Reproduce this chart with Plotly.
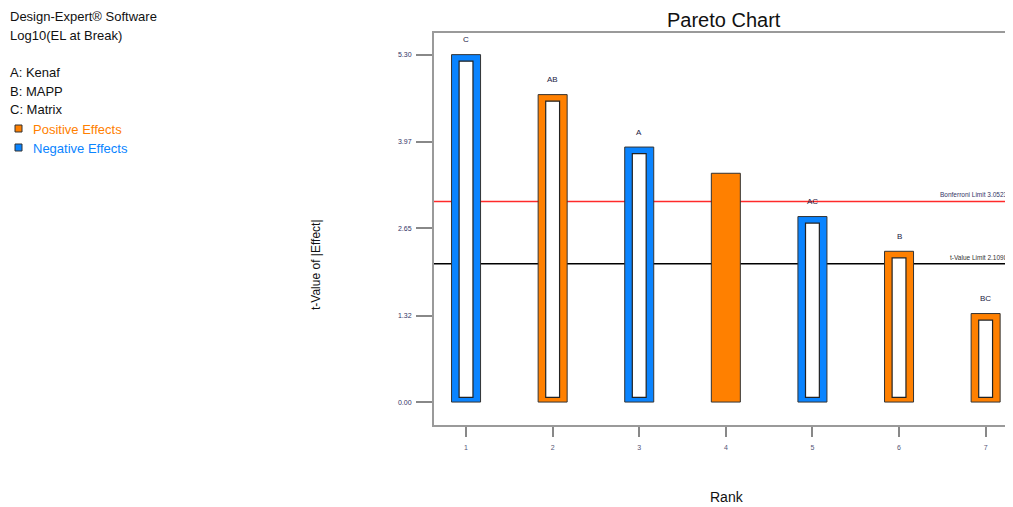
import plotly.graph_objects as go

# ---- data ----
ranks = [1, 2, 3, 4, 5, 6, 7]
effects = [5.30, 4.69, 3.89, 3.49, 2.83, 2.30, 1.35]
terms = ["C", "AB", "A", "", "AC", "B", "BC"]
signs = ["neg", "pos", "neg", "pos", "neg", "pos", "pos"]
hollow = [True, True, True, False, True, True, True]
y_ticks = [0.00, 1.32, 2.65, 3.97, 5.30]
y_tick_text = ["0.00", "1.32", "2.65", "3.97", "5.30"]
bonferroni_limit = 3.06
t_value_limit = 2.11
info_lines = ["Design-Expert® Software", "Log10(EL at Break)", "", "A: Kenaf", "B: MAPP", "C: Matrix"]

ORANGE = "#FF8000"
BLUE = "#0A84FF"
colors = [ORANGE if s == "pos" else BLUE for s in signs]

OFF = 8  # page body margin
W, H = 1013 - OFF, 507 - OFF
L, R, T, B = 434 - OFF, 0, 33 - OFF, 82
pw, ph = W - L - R, H - T - B

def px(x):
    return (x - OFF - L) / pw

def py(y):
    return (H - B - (y - OFF)) / ph

fig = go.Figure()

fig.add_trace(go.Bar(
    x=ranks, y=effects, width=0.335,
    marker=dict(color=colors, line=dict(color="#333333", width=1)),
    hoverinfo="skip", showlegend=False,
))

# inner white part of hollow bars
inset_bottom, inset_top = 0.07, 0.10
hx = [r for r, h in zip(ranks, hollow) if h]
hy = [e - inset_bottom - inset_top for e, h in zip(effects, hollow) if h]
fig.add_trace(go.Bar(
    x=hx, y=hy, base=[inset_bottom] * len(hx), width=0.16,
    marker=dict(color="white", line=dict(color="#222222", width=1.2)),
    hoverinfo="skip", showlegend=False,
))

# limit lines (below bars)
fig.add_shape(type="line", xref="paper", yref="y", x0=0, x1=1,
              y0=bonferroni_limit, y1=bonferroni_limit,
              line=dict(color="#FF2A2A", width=1.5), layer="below")
fig.add_shape(type="line", xref="paper", yref="y", x0=0, x1=1,
              y0=t_value_limit, y1=t_value_limit,
              line=dict(color="black", width=1.5), layer="below")

fig.add_annotation(xref="paper", yref="y", x=1, y=bonferroni_limit,
                   text="Bonferroni Limit 3.05231", showarrow=False,
                   xanchor="right", yanchor="bottom", yshift=1,
                   font=dict(size=6.5, color="#333366"))
fig.add_annotation(xref="paper", yref="y", x=1, y=t_value_limit,
                   text="t-Value Limit 2.10982", showarrow=False,
                   xanchor="right", yanchor="bottom", yshift=1,
                   font=dict(size=6.5, color="#333333"))

# term labels above bars
for r, e, t in zip(ranks, effects, terms):
    if t:
        fig.add_annotation(x=r, y=e, text=t, showarrow=False, yshift=15,
                           xanchor="center", yanchor="middle",
                           font=dict(size=8, color="#222244"))

# title & axis titles
fig.add_annotation(xref="paper", yref="paper", x=px(724), y=py(20),
                   text="Pareto Chart", showarrow=False,
                   xanchor="center", yanchor="middle",
                   font=dict(size=20, color="#111111"))
fig.add_annotation(xref="paper", yref="paper", x=px(727), y=py(497),
                   text="Rank", showarrow=False,
                   xanchor="center", yanchor="middle",
                   font=dict(size=14, color="#111111"))
fig.add_annotation(xref="paper", yref="paper", x=px(316), y=py(265),
                   text="t-Value of |Effect|", showarrow=False, textangle=-90,
                   xanchor="center", yanchor="middle",
                   font=dict(size=12, color="#111111"))

# left info text
y0 = 17
for i, line in enumerate(info_lines):
    if line:
        fig.add_annotation(xref="paper", yref="paper", x=px(8), y=py(y0 + i * 18.6),
                           text=line, showarrow=False,
                           xanchor="left", yanchor="middle",
                           font=dict(size=13, color="#111111"))
for label, col, yy in [("Positive Effects", ORANGE, 129), ("Negative Effects", BLUE, 148)]:
    fig.add_shape(type="rect", xref="paper", yref="paper",
                  x0=px(15), x1=px(22), y0=py(yy - 4), y1=py(yy + 3),
                  fillcolor=col, line=dict(color="#333333", width=1))
    fig.add_annotation(xref="paper", yref="paper", x=px(31), y=py(yy),
                       text=label, showarrow=False,
                       xanchor="left", yanchor="middle",
                       font=dict(size=13, color=col))

fig.update_layout(
    width=W, height=H,
    margin=dict(l=L, r=R, t=T, b=B),
    paper_bgcolor="white", plot_bgcolor="white",
    barmode="overlay",
    font=dict(family="Liberation Sans, Arial, sans-serif"),
    showlegend=False,
)
fig.update_xaxes(
    range=[0.63, 7.316], tickvals=ranks, ticktext=[str(r) for r in ranks],
    showgrid=False, zeroline=False,
    showline=True, linecolor="#9a9a9a", linewidth=2, mirror=True,
    ticks="outside", ticklen=10, tickcolor="#888888", tickwidth=1.5,
    ticklabelstandoff=5,
    tickfont=dict(size=7, color="#555577"),
)
fig.update_yaxes(
    range=[-0.35, 5.63], tickvals=y_ticks, ticktext=y_tick_text,
    showgrid=False, zeroline=False,
    showline=True, linecolor="#9a9a9a", linewidth=2,
    ticks="outside", ticklen=16, tickcolor="#888888", tickwidth=1.5,
    ticklabelstandoff=3,
    tickfont=dict(size=7, color="#333366"),
)

fig.write_html("out.html")
